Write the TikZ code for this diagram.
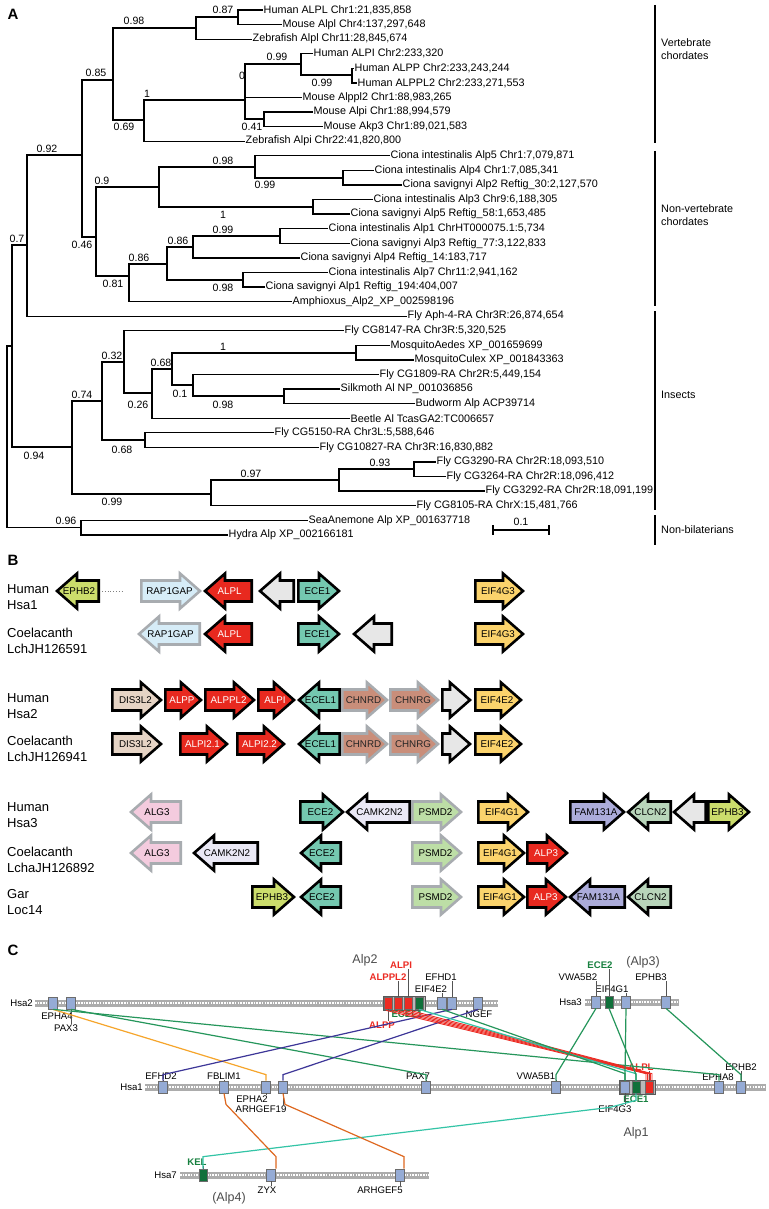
\documentclass[tikz,border=0pt]{standalone}
\usepackage{fontspec}
\setmainfont{Liberation Sans}

\definecolor{alpred}{HTML}{E8291F}
\definecolor{eceteal}{HTML}{74C8B0}
\definecolor{eifyel}{HTML}{FBD36C}
\definecolor{ephlime}{HTML}{CCDD6C}
\definecolor{rapblue}{HTML}{D6ECF7}
\definecolor{disbeige}{HTML}{E6D4C5}
\definecolor{chnbrown}{HTML}{C98E7A}
\definecolor{blankgray}{HTML}{E7E7E7}
\definecolor{algpink}{HTML}{F4CBDE}
\definecolor{camklav}{HTML}{EAE8F5}
\definecolor{psmgreen}{HTML}{BDDEA6}
\definecolor{famlav}{HTML}{ACACDA}
\definecolor{clcgreen}{HTML}{B8D5BA}
\definecolor{rimgray}{HTML}{A8ACB0}
\definecolor{boxblue}{HTML}{95ABD5}
\definecolor{keygreen}{HTML}{10703A}
\definecolor{labgreen}{HTML}{17803F}
\definecolor{syngreen}{HTML}{25965B}
\definecolor{synteal}{HTML}{33C4A6}
\definecolor{synorange}{HTML}{F6A52B}
\definecolor{synbrown}{HTML}{DE6820}
\definecolor{synpurple}{HTML}{3D3698}
\definecolor{synred}{HTML}{EC2B23}

\tikzset{
  branch/.style={line width=1.35pt},
  leaf/.style={anchor=west, inner sep=0.5pt, font=\fontsize{10.8}{13}\selectfont},
  boot/.style={inner sep=0pt, font=\fontsize{10.6}{13}\selectfont},
  clade/.style={anchor=west, align=left, inner sep=0pt, font=\fontsize{10.8}{13.5}\selectfont},
  panel/.style={inner sep=0pt, font=\fontsize{15}{15}\selectfont\bfseries},
  rowlab/.style={anchor=west, align=left, inner sep=0pt, font=\fontsize{13}{15.5}\selectfont},
  genebody/.style={line width=2.6pt, line join=miter},
  genelabel/.style={inner sep=0pt, font=\fontsize{9.8}{10}\selectfont},
  chrbox/.style={draw=gray!85!black, line width=0.7pt, fill=boxblue, minimum width=8.5pt, minimum height=12pt, inner sep=0pt},
  keybox/.style={chrbox, fill=keygreen, minimum width=8pt},
  redbox/.style={chrbox, fill=synred, minimum width=8pt},
  clusterbox/.style={draw=gray!70!black, line width=0.7pt, fill=gray!55, minimum height=14pt, inner sep=0pt},
  glab/.style={inner sep=0.5pt, font=\fontsize{9.6}{10}\selectfont},
  redlab/.style={glab, text=synred, font=\fontsize{9.6}{10}\selectfont\bfseries},
  greenlab/.style={glab, text=labgreen, font=\fontsize{9.6}{10}\selectfont\bfseries},
  alplab/.style={inner sep=0pt, text=black!70, font=\fontsize{12.5}{13}\selectfont},
  chrlab/.style={anchor=east, inner sep=0pt, font=\fontsize{9.6}{10}\selectfont},
  leader/.style={gray!65!black, line width=0.6pt},
  syn/.style={line width=1.2pt},
}

% gene arrow: name, tail x, tip x, y, fill, rim, text colour, label
\newcommand{\genearrow}[8]{%
  \pgfmathsetmacro{\gdir}{(#3>#2) ? 1 : -1}%
  \pgfmathsetmacro{\gtip}{#3-2*(\gdir)}%
  \pgfmathsetmacro{\gtail}{#2+1.3*(\gdir)}%
  \pgfmathsetmacro{\gneck}{#3-22*(\gdir)}%
  \pgfmathsetmacro{\gmid}{(#2+#3)/2-1.5*(\gdir)}%
  \draw[genebody, fill=#5, draw=#6] ({\gtail},{#4-10.5}) -- ({\gneck},{#4-10.5}) -- ({\gneck},{#4-17.5})
    -- ({\gtip},{#4}) -- ({\gneck},{#4+17.5}) -- ({\gneck},{#4+10.5}) -- ({\gtail},{#4+10.5}) -- cycle;
  \node[genelabel, text=#7] (#1) at ({\gmid},{#4}) {#8};
}

% chromosome bar: x1, x2, y
\newcommand{\chrombar}[3]{%
  \draw[line width=7pt, gray!65] (#1,#3) -- (#2,#3);
  \draw[line width=2.4pt, white, dash pattern=on 1.6pt off 1.1pt] (#1,#3) -- (#2,#3);
}

\begin{document}
\begin{tikzpicture}[x=1pt, y=-1pt]
\useasboundingbox (0,0) rectangle (768,1209);
\fill[white] (0,0) rectangle (768,1209);

% ---------------- A: tree
\node[panel] (pA) at (13,14) {A};

% leaves
\node[leaf] (l0) at (263,10.0) {Human ALPL Chr1:21,835,858};
\node[leaf] (l1) at (282,24.6) {Mouse Alpl Chr4:137,297,648};
\node[leaf] (l2) at (252,39.2) {Zebrafish Alpl Chr11:28,845,674};
\node[leaf] (l3) at (313,53.7) {Human ALPI Chr2:233,320};
\node[leaf] (l4) at (354,68.3) {Human ALPP Chr2:233,243,244};
\node[leaf] (l5) at (357,82.9) {Human ALPPL2 Chr2:233,271,553};
\node[leaf] (l6) at (302,97.5) {Mouse Alppl2 Chr1:88,983,265};
\node[leaf] (l7) at (313,112.1) {Mouse Alpi Chr1:88,994,579};
\node[leaf] (l8) at (323,126.6) {Mouse Akp3 Chr1:89,021,583};
\node[leaf] (l9) at (245,141.2) {Zebrafish Alpi Chr22:41,820,800};
\node[leaf] (l10) at (390,155.8) {Ciona intestinalis Alp5 Chr1:7,079,871};
\node[leaf] (l11) at (374,170.4) {Ciona intestinalis Alp4 Chr1:7,085,341};
\node[leaf] (l12) at (402,185.0) {Ciona savignyi Alp2 Reftig\_30:2,127,570};
\node[leaf] (l13) at (373,199.5) {Ciona intestinalis Alp3 Chr9:6,188,305};
\node[leaf] (l14) at (350,214.1) {Ciona savignyi Alp5 Reftig\_58:1,653,485};
\node[leaf] (l15) at (328,228.7) {Ciona intestinalis Alp1 ChrHT000075.1:5,734};
\node[leaf] (l16) at (350,243.3) {Ciona savignyi Alp3 Reftig\_77:3,122,833};
\node[leaf] (l17) at (300,257.9) {Ciona savignyi Alp4 Reftig\_14:183,717};
\node[leaf] (l18) at (328,272.4) {Ciona intestinalis Alp7 Chr11:2,941,162};
\node[leaf] (l19) at (265,287.0) {Ciona savignyi Alp1 Reftig\_194:404,007};
\node[leaf] (l20) at (292,301.6) {Amphioxus\_Alp2\_XP\_002598196};
\node[leaf] (l21) at (407,316.2) {Fly Aph-4-RA Chr3R:26,874,654};
\node[leaf] (l22) at (344,330.8) {Fly CG8147-RA Chr3R:5,320,525};
\node[leaf] (l23) at (390,345.3) {MosquitoAedes XP\_001659699};
\node[leaf] (l24) at (414,359.9) {MosquitoCulex XP\_001843363};
\node[leaf] (l25) at (379,374.5) {Fly CG1809-RA Chr2R:5,449,154};
\node[leaf] (l26) at (340,389.1) {Silkmoth Al NP\_001036856};
\node[leaf] (l27) at (415,403.7) {Budworm Alp ACP39714};
\node[leaf] (l28) at (350,418.2) {Beetle Al TcasGA2:TC006657};
\node[leaf] (l29) at (274,432.8) {Fly CG5150-RA Chr3L:5,588,646};
\node[leaf] (l30) at (319,447.4) {Fly CG10827-RA Chr3R:16,830,882};
\node[leaf] (l31) at (436,462.0) {Fly CG3290-RA Chr2R:18,093,510};
\node[leaf] (l32) at (446,476.6) {Fly CG3264-RA Chr2R:18,096,412};
\node[leaf] (l33) at (485,491.1) {Fly CG3292-RA Chr2R:18,091,199};
\node[leaf] (l34) at (416,505.7) {Fly CG8105-RA ChrX:15,481,766};
\node[leaf] (l35) at (308,520.3) {SeaAnemone Alp XP\_001637718};
\node[leaf] (l36) at (228,534.9) {Hydra Alp XP\_002166181};

% inner nodes
\coordinate (n087) at (238,17);
\coordinate (n098) at (196,28);
\coordinate (n099a) at (352,75);
\coordinate (n099b) at (301,64);
\coordinate (n041) at (264,119);
\coordinate (n0) at (245,100);
\coordinate (n1) at (144,120);
\coordinate (n085) at (113,80);
\coordinate (nc1) at (343,178);
\coordinate (n099c) at (255,167);
\coordinate (n1b) at (313,207);
\coordinate (n098c) at (159,187);
\coordinate (n099d) at (280,236);
\coordinate (n086a) at (193,247);
\coordinate (n098d) at (243,280);
\coordinate (n086b) at (167,264);
\coordinate (n081) at (129,276);
\coordinate (n090) at (96,237);
\coordinate (n092) at (82,155);
\coordinate (n07) at (27,245);
\coordinate (n1c) at (356,353);
\coordinate (n098e) at (284,396);
\coordinate (n01) at (193,385);
\coordinate (n068a) at (172,369);
\coordinate (n026) at (152,393);
\coordinate (n032) at (124,362);
\coordinate (n068b) at (145,440);
\coordinate (n074) at (102,401);
\coordinate (n093) at (414,469);
\coordinate (n097) at (339,480);
\coordinate (n099f) at (211,494);
\coordinate (n094) at (72,447);
\coordinate (n12) at (12,346);
\coordinate (n096) at (81,527.6);
\coordinate (nroot) at (7,437);

% branches
\draw[branch] (n087) |- (l0.west) (n087) |- (l1.west);
\draw[branch] (n098) |- (n087) (n098) |- (l2.west);
\draw[branch] (n099a) |- (l4.west) (n099a) |- (l5.west);
\draw[branch] (n099b) |- (l3.west) (n099b) |- (n099a);
\draw[branch] (n041) |- (l7.west) (n041) |- (l8.west);
\draw[branch] (n0) |- (n099b) (n0) |- (l6.west) (n0) |- (n041);
\draw[branch] (n1) |- (n0) (n1) |- (l9.west);
\draw[branch] (n085) |- (n098) (n085) |- (n1);
\draw[branch] (nc1) |- (l11.west) (nc1) |- (l12.west);
\draw[branch] (n099c) |- (l10.west) (n099c) |- (nc1);
\draw[branch] (n1b) |- (l13.west) (n1b) |- (l14.west);
\draw[branch] (n098c) |- (n099c) (n098c) |- (n1b);
\draw[branch] (n099d) |- (l15.west) (n099d) |- (l16.west);
\draw[branch] (n086a) |- (n099d) (n086a) |- (l17.west);
\draw[branch] (n098d) |- (l18.west) (n098d) |- (l19.west);
\draw[branch] (n086b) |- (n086a) (n086b) |- (n098d);
\draw[branch] (n081) |- (n086b) (n081) |- (l20.west);
\draw[branch] (n090) |- (n098c) (n090) |- (n081);
\draw[branch] (n092) |- (n085) (n092) |- (n090);
\draw[branch] (n07) |- (n092) (n07) |- (l21.west);
\draw[branch] (n1c) |- (l23.west) (n1c) |- (l24.west);
\draw[branch] (n098e) |- (l26.west) (n098e) |- (l27.west);
\draw[branch] (n01) |- (l25.west) (n01) |- (n098e);
\draw[branch] (n068a) |- (n1c) (n068a) |- (n01);
\draw[branch] (n026) |- (n068a) (n026) |- (l28.west);
\draw[branch] (n032) |- (l22.west) (n032) |- (n026);
\draw[branch] (n068b) |- (l29.west) (n068b) |- (l30.west);
\draw[branch] (n074) |- (n032) (n074) |- (n068b);
\draw[branch] (n093) |- (l31.west) (n093) |- (l32.west);
\draw[branch] (n097) |- (n093) (n097) |- (l33.west);
\draw[branch] (n099f) |- (n097) (n099f) |- (l34.west);
\draw[branch] (n094) |- (n074) (n094) |- (n099f);
\draw[branch] (n12) |- (n07) (n12) |- (n094);
\draw[branch] (n096) |- (l35.west) (n096) |- (l36.west);
\draw[branch] (nroot) |- (n12) (nroot) |- (n096);

% support values
\node[boot] (b087) at (223,10) {0.87};
\node[boot] (b098a) at (134,21) {0.98};
\node[boot] (b085) at (96,73) {0.85};
\node[boot] (b069) at (124,127) {0.69};
\node[boot] (b1a) at (147,94) {1};
\node[boot] (b0) at (242,76) {0};
\node[boot] (b099a) at (277,57) {0.99};
\node[boot] (b099b) at (322,83) {0.99};
\node[boot] (b041) at (252,127) {0.41};
\node[boot] (b092) at (47,149) {0.92};
\node[boot] (b098c) at (223,161) {0.98};
\node[boot] (b099c) at (265,185) {0.99};
\node[boot] (b090) at (102,181) {0.9};
\node[boot] (b1b) at (223,215) {1};
\node[boot] (b046) at (82,245) {0.46};
\node[boot] (b081) at (113,284) {0.81};
\node[boot] (b086b) at (139,258) {0.86};
\node[boot] (b086a) at (178,241) {0.86};
\node[boot] (b099d) at (223,230) {0.99};
\node[boot] (b098d) at (223,288) {0.98};
\node[boot] (b07) at (17,239) {0.7};
\node[boot] (b1c) at (223,347) {1};
\node[boot] (b068a) at (161,363) {0.68};
\node[boot] (b01) at (180,394) {0.1};
\node[boot] (b098e) at (223,405) {0.98};
\node[boot] (b032) at (112,356) {0.32};
\node[boot] (b026) at (138,405) {0.26};
\node[boot] (b074) at (82,395) {0.74};
\node[boot] (b068b) at (122,450) {0.68};
\node[boot] (b094) at (34,456) {0.94};
\node[boot] (b093) at (380,463) {0.93};
\node[boot] (b097) at (251,474) {0.97};
\node[boot] (b099f) at (112,502) {0.99};
\node[boot] (b096) at (66,521) {0.96};

% scale bar
\draw[line width=1.2pt] (493,530) -- (549,530) (493,525) -- (493,535) (549,525) -- (549,535);
\node[boot] (bscale) at (521,522) {0.1};

% groups
\draw[line width=1.3pt] (655,5) -- (655,143);
\draw[line width=1.3pt] (655,151) -- (655,306);
\draw[line width=1.3pt] (655,311) -- (655,510);
\draw[line width=1.3pt] (655,515) -- (655,545);
\node[clade] (gvert) at (661,49) {Vertebrate\\chordates};
\node[clade] (gnonv) at (661,215) {Non-vertebrate\\chordates};
\node[clade] (gins) at (661,395) {Insects};
\node[clade] (gnonb) at (661,530) {Non-bilaterians};

% ---------------- B: gene neighbourhoods
\node[panel] (pB) at (13,560) {B};
\node[rowlab] (rhsa1) at (7,597) {Human\\Hsa1};
\node[rowlab] (rlch1) at (7,641) {Coelacanth\\LchJH126591};
\node[rowlab] (rhsa2) at (7,706) {Human\\Hsa2};
\node[rowlab] (rlch2) at (7,749) {Coelacanth\\LchJH126941};
\node[rowlab] (rhsa3) at (7,815) {Human\\Hsa3};
\node[rowlab] (rlch3) at (7,860) {Coelacanth\\LchaJH126892};
\node[rowlab] (rgar) at (7,902) {Gar\\Loc14};

% Hsa1
\genearrow{aephb}{100}{55}{591}{ephlime}{black}{black}{EPHB2}
\coordinate (gapa) at (102,591);
\coordinate (gapb) at (122,591);
\draw[dotted, gray, line width=0.8pt] (gapa) -- (gapb);
\genearrow{arap}{140}{202}{591}{rapblue}{rimgray}{black}{RAP1GAP}
\genearrow{aalpl}{253}{203}{591}{alpred}{black}{white}{ALPL}
\genearrow{ablank}{295}{258}{591}{blankgray}{black}{black}{}
\genearrow{aece}{297}{341}{591}{eceteal}{black}{black}{ECE1}
\genearrow{aeif}{474}{525}{591}{eifyel}{black}{black}{EIF4G3}
% LchJH126591
\genearrow{brap}{201}{137}{634}{rapblue}{rimgray}{black}{RAP1GAP}
\genearrow{balpl}{253}{203}{634}{alpred}{black}{white}{ALPL}
\genearrow{bece}{297}{341}{634}{eceteal}{black}{black}{ECE1}
\genearrow{bblank}{393}{352}{634}{blankgray}{black}{black}{}
\genearrow{beif}{474}{525}{634}{eifyel}{black}{black}{EIF4G3}
% Hsa2
\genearrow{cdis}{111}{163}{700}{disbeige}{black}{black}{DIS3L2}
\genearrow{calpp}{164}{203}{700}{alpred}{black}{white}{ALPP}
\genearrow{calppl}{204}{256}{700}{alpred}{black}{white}{ALPPL2}
\genearrow{calpi}{257}{296}{700}{alpred}{black}{white}{ALPI}
\genearrow{cecel}{341}{297}{700}{eceteal}{black}{black}{ECEL1}
\genearrow{cchnrd}{341}{389}{700}{chnbrown}{rimgray}{black!85}{CHNRD}
\genearrow{cchnrg}{389}{440}{700}{chnbrown}{rimgray}{black!85}{CHNRG}
\genearrow{cblank}{441}{472}{700}{blankgray}{black}{black}{}
\genearrow{ceif}{474}{523}{700}{eifyel}{black}{black}{EIF4E2}
% LchJH126941
\genearrow{ddis}{111}{163}{744}{disbeige}{black}{black}{DIS3L2}
\genearrow{dalpa}{179}{229}{744}{alpred}{black}{white}{ALPI2.1}
\genearrow{dalpb}{236}{286}{744}{alpred}{black}{white}{ALPI2.2}
\genearrow{decel}{341}{297}{744}{eceteal}{black}{black}{ECEL1}
\genearrow{dchnrd}{341}{389}{744}{chnbrown}{rimgray}{black!85}{CHNRD}
\genearrow{dchnrg}{389}{440}{744}{chnbrown}{rimgray}{black!85}{CHNRG}
\genearrow{dblank}{441}{472}{744}{blankgray}{black}{black}{}
\genearrow{deif}{474}{523}{744}{eifyel}{black}{black}{EIF4E2}
% Hsa3
\genearrow{ealg}{182}{129}{812}{algpink}{rimgray}{black}{ALG3}
\genearrow{eece}{299}{345}{812}{eceteal}{black}{black}{ECE2}
\genearrow{ecamk}{411}{345}{812}{camklav}{black}{black}{CAMK2N2}
\genearrow{epsmd}{411}{463}{812}{psmgreen}{rimgray}{black}{PSMD2}
\genearrow{eeif}{477}{530}{812}{eifyel}{black}{black}{EIF4G1}
\genearrow{efam}{569}{626}{812}{famlav}{black}{black}{FAM131A}
\genearrow{eclcn}{672}{626}{812}{clcgreen}{black}{black}{CLCN2}
\genearrow{eblank}{707}{672}{812}{blankgray}{black}{black}{}
\genearrow{eephb}{707}{751}{812}{ephlime}{black}{black}{EPHB3}
% LchaJH126892
\genearrow{falg}{182}{129}{853}{algpink}{rimgray}{black}{ALG3}
\genearrow{fcamk}{259}{192}{853}{camklav}{black}{black}{CAMK2N2}
\genearrow{fece}{342}{299}{853}{eceteal}{black}{black}{ECE2}
\genearrow{fpsmd}{411}{463}{853}{psmgreen}{rimgray}{black}{PSMD2}
\genearrow{feif}{477}{526}{853}{eifyel}{black}{black}{EIF4G1}
\genearrow{falp}{526}{569}{853}{alpred}{black}{white}{ALP3}
% Loc14
\genearrow{gephb}{251}{296}{897}{ephlime}{black}{black}{EPHB3}
\genearrow{gece}{342}{299}{897}{eceteal}{black}{black}{ECE2}
\genearrow{gpsmd}{411}{463}{897}{psmgreen}{rimgray}{black}{PSMD2}
\genearrow{geif}{477}{526}{897}{eifyel}{black}{black}{EIF4G1}
\genearrow{galp}{526}{568}{897}{alpred}{black}{white}{ALP3}
\genearrow{gfam}{626}{568}{897}{famlav}{black}{black}{FAM131A}
\genearrow{gclcn}{672}{626}{897}{clcgreen}{black}{black}{CLCN2}

% ---------------- C: synteny
\node[panel] (pC) at (13,950) {C};
\chrombar{35}{498}{1003}
\chrombar{585}{679}{1002}
\chrombar{145}{766}{1087}
\chrombar{180}{429}{1175}
\node[chrlab] (hsa2) at (33,1003) {Hsa2};
\node[chrlab] (hsa3) at (582,1002) {Hsa3};
\node[chrlab] (hsa1) at (143,1087) {Hsa1};
\node[chrlab] (hsa7) at (177,1175) {Hsa7};

% Hsa2 boxes
\node[chrbox] (x2epha4) at (53,1003) {};
\node[chrbox] (x2pax3) at (71,1003) {};
\node[clusterbox, minimum width=42pt] (x2clus) at (404,1003) {};
\node[redbox] (x2alpp) at (388,1003) {};
\node[redbox] (x2alppl2) at (398,1003) {};
\node[redbox] (x2alpi) at (408,1003) {};
\node[keybox] (x2ecel1) at (419,1003) {};
\node[chrbox] (x2eif4e2) at (442,1003) {};
\node[chrbox] (x2efhd1) at (452,1003) {};
\node[chrbox] (x2ngef) at (478,1003) {};
% Hsa3 boxes
\node[chrbox] (x3vwa5b2) at (596,1002) {};
\node[keybox] (x3ece2) at (609,1002) {};
\node[chrbox] (x3eif4g1) at (626,1002) {};
\node[chrbox] (x3ephb3) at (666,1002) {};
% Hsa1 boxes
\node[chrbox] (x1efhd2) at (163,1087) {};
\node[chrbox] (x1fblim1) at (224,1087) {};
\node[chrbox] (x1epha2) at (266,1087) {};
\node[chrbox] (x1arhgef19) at (283,1087) {};
\node[chrbox] (x1pax7) at (426,1087) {};
\node[chrbox] (x1vwa5b1) at (556,1087) {};
\node[clusterbox, minimum width=36pt] (x1clus) at (637,1087) {};
\node[chrbox] (x1eif4g3) at (625,1087) {};
\node[keybox] (x1ece1) at (636,1087) {};
\node[redbox] (x1alpl) at (649,1087) {};
\node[chrbox] (x1epha8) at (719,1087) {};
\node[chrbox] (x1ephb2) at (741,1087) {};
% Hsa7 boxes
\node[keybox] (x7kel) at (203,1175) {};
\node[chrbox] (x7zyx) at (271,1175) {};
\node[chrbox] (x7arhgef5) at (400,1175) {};

% gene names
\node[glab] (t2epha4) at (57,1016) {EPHA4};
\node[glab] (t2pax3) at (66,1028) {PAX3};
\node[alplab] (t2alp) at (365,960) {Alp2};
\node[redlab] (t2alpi) at (401,965) {ALPI};
\node[redlab] (t2alppl2) at (388,977) {ALPPL2};
\node[glab] (t2efhd1) at (441,977) {EFHD1};
\node[glab] (t2eif4e2) at (431,989) {EIF4E2};
\node[greenlab] (t2ecel1) at (407,1014) {ECEL1};
\node[glab] (t2ngef) at (479,1014) {NGEF};
\node[redlab] (t2alpp) at (382,1025) {ALPP};
\node[greenlab] (t3ece2) at (600,965) {ECE2};
\node[alplab] (t3alp) at (643,962) {(Alp3)};
\node[glab] (t3vwa5b2) at (578,977) {VWA5B2};
\node[glab] (t3ephb3) at (651,977) {EPHB3};
\node[glab] (t3eif4g1) at (612,989) {EIF4G1};
\node[glab] (t1efhd2) at (161,1076) {EFHD2};
\node[glab] (t1fblim1) at (224,1076) {FBLIM1};
\node[glab] (t1epha2) at (252,1099) {EPHA2};
\node[glab] (t1arhgef19) at (261,1109) {ARHGEF19};
\node[glab] (t1pax7) at (418,1076) {PAX7};
\node[glab] (t1vwa5b1) at (536,1076) {VWA5B1};
\node[redlab] (t1alpl) at (641,1067) {ALPL};
\node[glab] (t1ephb2) at (741,1067) {EPHB2};
\node[glab] (t1epha8) at (718,1077) {EPHA8};
\node[greenlab] (t1ece1) at (636,1099) {ECE1};
\node[glab] (t1eif4g3) at (615,1109) {EIF4G3};
\node[alplab] (t1alp) at (636,1133) {Alp1};
\node[greenlab] (t7kel) at (197,1162) {KEL};
\node[glab] (t7zyx) at (267,1190) {ZYX};
\node[glab] (t7arhgef5) at (380,1190) {ARHGEF5};
\node[alplab] (t7alp) at (229,1198) {(Alp4)};

% leaders
\foreach \b/\t in {x2alpi/t2alpi, x2alppl2/t2alppl2, x2efhd1/t2efhd1, x2eif4e2/t2eif4e2,
                   x3ece2/t3ece2, x3vwa5b2/t3vwa5b2, x3eif4g1/t3eif4g1, x3ephb3/t3ephb3,
                   x1efhd2/t1efhd2, x1fblim1/t1fblim1, x1pax7/t1pax7, x1vwa5b1/t1vwa5b1,
                   x1alpl/t1alpl, x1ephb2/t1ephb2, x1epha8/t1epha8, x7kel/t7kel}
  \draw[leader] (\b.north) -- (\b.north |- \t.south);
\foreach \b/\t in {x2pax3/t2pax3, x2ecel1/t2ecel1, x2ngef/t2ngef, x2alpp/t2alpp,
                   x1epha2/t1epha2, x1arhgef19/t1arhgef19, x1ece1/t1ece1, x1eif4g3/t1eif4g3,
                   x7zyx/t7zyx, x7arhgef5/t7arhgef5}
  \draw[leader] (\b.south) -- (\b.south |- \t.north);

% Hsa2 -> Hsa1
\draw[syn, synorange] (x2epha4.south) -- ([yshift=6pt]x1epha2.north) -- (x1epha2.north);
\draw[syn, syngreen] (x2epha4.south) -- ([yshift=6pt]x1epha8.north) -- (x1epha8.north);
\draw[syn, syngreen] (x2pax3.south) -- ([yshift=6pt]x1pax7.north) -- (x1pax7.north);
\draw[syn, synpurple] (x2efhd1.south) -- ([yshift=6pt]x1efhd2.north) -- (x1efhd2.north);
\draw[syn, synpurple] (x2ngef.south) -- ([yshift=6pt]x1arhgef19.north) -- (x1arhgef19.north);
\foreach \s/\e in {-18/-3, -12/-1.5, -6/0, 0/1.5, 6/3}
  \draw[syn, synred, line width=0.9pt] ([xshift=\s pt]x2clus.south) -- ([xshift=\e pt, yshift=7pt]x1alpl.north) -- ([xshift=\e pt]x1alpl.north);
\draw[syn, synteal] (x2ecel1.south) -- ([yshift=7pt]x1ece1.north) -- (x1ece1.north);
\draw[syn, syngreen] (x2eif4e2.south) -- ([yshift=7pt]x1eif4g3.north) -- (x1eif4g3.north);
% Hsa3 -> Hsa1
\draw[syn, syngreen] (x3vwa5b2.south) -- ([yshift=6pt]x1vwa5b1.north) -- (x1vwa5b1.north);
\draw[syn, syngreen] (x3ece2.south) -- ([yshift=6pt]x1ece1.north) -- (x1ece1.north);
\draw[syn, syngreen] (x3eif4g1.south) -- ([yshift=6pt]x1eif4g3.north) -- (x1eif4g3.north);
\draw[syn, syngreen] (x3ephb3.south) -- ([yshift=6pt]x1ephb2.north) -- (x1ephb2.north);
% Hsa1 -> Hsa7
\draw[syn, synteal] (x1ece1.south) -- ++(0,7) -- ++(-26,7) -- ([yshift=12pt]x7kel.north) -- (x7kel.north);
\draw[syn, synbrown] (x1fblim1.south) -- ++(2,11) -- ([xshift=5pt, yshift=12pt]x7zyx.north) -- ([xshift=5pt]x7zyx.north);
\draw[syn, synbrown] (x1arhgef19.south) -- ++(2,11) -- ([xshift=4pt, yshift=12pt]x7arhgef5.north) -- ([xshift=4pt]x7arhgef5.north);
\end{tikzpicture}
\end{document}
